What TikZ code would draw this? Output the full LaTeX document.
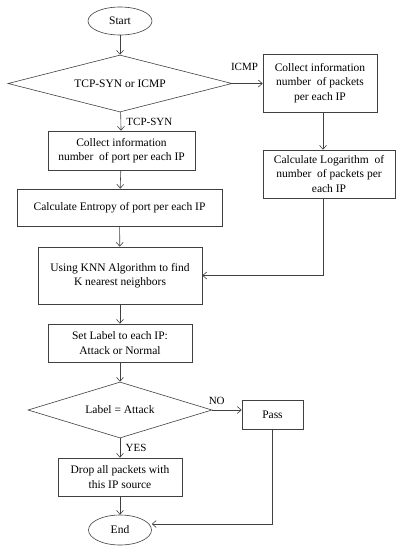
\documentclass[tikz,border=0pt]{standalone}
\usepackage{fontspec}
\setmainfont{Liberation Serif}
\usetikzlibrary{arrows.meta,shapes.geometric}

\tikzset{
  flowline/.style={draw=black!75, line width=0.6pt, -{Straight Barb[length=4pt,width=7pt]}},
  procbox/.style={draw=black!75, line width=0.6pt, rectangle, align=center, inner sep=0pt,
    font=\fontsize{11.5}{14.5}\selectfont},
  termnode/.style={draw=black!75, line width=0.6pt, ellipse, inner sep=0pt,
    font=\fontsize{11.5}{13}\selectfont},
  decnode/.style={draw=black!75, line width=0.6pt, diamond, aspect=3.9, inner sep=0pt,
    font=\fontsize{11.5}{13}\selectfont},
  edgelabel/.style={font=\fontsize{11}{12}\selectfont}
}

\begin{document}
\begin{tikzpicture}[x=1pt,y=-1pt]
  \useasboundingbox (0,0) rectangle (401,550);

  % main column
  \node[termnode, minimum width=64pt, minimum height=28pt] (start) at (120,21) {Start};
  \node[decnode, minimum width=224pt, minimum height=57pt] (proto) at (120,83.5) {TCP-SYN or ICMP};
  \node[procbox, minimum width=147pt, minimum height=39pt] (portinfo) at (121.5,150.5)
    {Collect information\\number\ \ of port per each IP};
  \node[procbox, minimum width=205pt, minimum height=37pt] (entropy) at (119.5,207.5)
    {Calculate Entropy\ of port per each IP};
  \node[procbox, minimum width=164pt, minimum height=57pt] (knn) at (120,275.5)
    {Using KNN Algorithm to find\\K nearest neighbors};
  \node[procbox, minimum width=144pt, minimum height=38pt] (setlabel) at (120,343)
    {Set Label to each IP:\\Attack or Normal};
  \node[decnode, minimum width=184pt, minimum height=56pt] (attack) at (120,410) {Label = Attack};
  \node[procbox, minimum width=124pt, minimum height=38pt] (drop) at (120,477)
    {Drop all packets with\\this IP source};
  \node[termnode, minimum width=63pt, minimum height=30pt] (end) at (120,530) {End};

  % right column
  \node[procbox, minimum width=114pt, minimum height=58pt] (pktinfo) at (320,83)
    {Collect information\\number\ \ of packets\\per each IP};
  \node[procbox, minimum width=132pt, minimum height=48pt] (logpkt) at (329,174)
    {Calculate Logarithm\ \ of\\number\ \ of packets per\\each IP};
  \node[procbox, minimum width=61pt, minimum height=29pt] (pass) at (272.5,414.5) {Pass};
  \coordinate (rightline) at (323,0);
  \coordinate (logturn) at (rightline |- knn.east);
  \coordinate (passturn) at (pass.south |- 0,524);

  % connectors
  \draw[flowline] (start) -- (proto);
  \draw[flowline] (proto.east) -- (proto.east -| pktinfo.west)
    node[edgelabel, above, pos=0.4, yshift=9pt] {ICMP};
  \draw[flowline] (proto) -- (portinfo)
    node[edgelabel, right, midway, xshift=2pt] {TCP-SYN};
  \draw[flowline] (portinfo) -- (entropy);
  \draw[flowline] (entropy) -- (knn);
  \draw[flowline] (rightline |- pktinfo.south) -- (rightline |- logpkt.north);
  \draw[flowline] (rightline |- logpkt.south) -- (logturn) -- (knn.east);
  \draw[flowline] (knn) -- (setlabel);
  \draw[flowline] (setlabel) -- (attack);
  \draw[flowline] (attack.east) -- (attack.east -| pass.west)
    node[edgelabel, above, pos=0.15, yshift=2pt] {NO};
  \draw[flowline] (attack) -- (drop)
    node[edgelabel, right, midway, xshift=2pt] {YES};
  \draw[flowline] (drop) -- (end);
  \draw[flowline] (pass.south) -- (passturn) -- (passturn -| end.east);
\end{tikzpicture}
\end{document}
